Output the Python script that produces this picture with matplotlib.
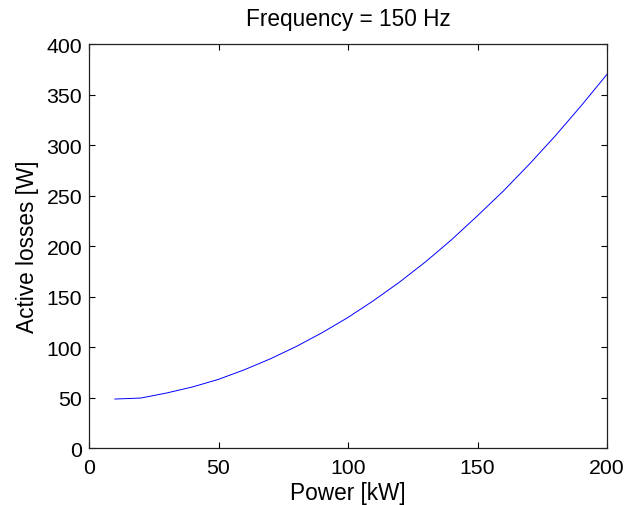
import matplotlib
matplotlib.use("Agg")
import matplotlib.pyplot as plt

# Active losses versus transferred power at 150 Hz
power_kw = [10, 20, 30, 40, 50, 60, 70, 80, 90, 100,
            110, 120, 130, 140, 150, 160, 170, 180, 190, 200]
losses_w = [48.5, 49.5, 54.5, 60.5, 68.0, 77.5, 88.3, 100.5, 114.2, 129.3,
            146.2, 164.5, 184.5, 206.3, 230.0, 254.5, 281.0, 309.0, 338.8, 370.0]

x_ticks = [0, 50, 100, 150, 200]
y_ticks = [0, 50, 100, 150, 200, 250, 300, 350, 400]

plt.rcParams['font.family'] = ['Liberation Sans', 'DejaVu Sans']

fig = plt.figure(figsize=(6.30, 5.06), dpi=100)
ax = fig.add_axes([0.1413, 0.1126, 0.8222, 0.7984])

ax.plot(power_kw, losses_w, color=(0, 0, 1), linewidth=0.7)

ax.set_xlim(0, 200)
ax.set_ylim(0, 400)
ax.set_xticks(x_ticks)
ax.set_yticks(y_ticks)

ax.tick_params(direction='in', length=4, width=0.8, top=True, right=True,
               labelsize=15.3, colors='black')
ax.tick_params(axis='x', pad=7)
ax.tick_params(axis='y', pad=5)
for s in ax.spines.values():
    s.set_linewidth(0.9)
    s.set_color('#222222')

ax.set_title('Frequency = 150 Hz', fontsize=16.3, pad=13.5)
ax.set_xlabel('Power [kW]', fontsize=16.3, labelpad=3)
ax.set_ylabel('Active losses [W]', fontsize=16.3, labelpad=5.5)

fig.savefig('out.png', dpi=100)
